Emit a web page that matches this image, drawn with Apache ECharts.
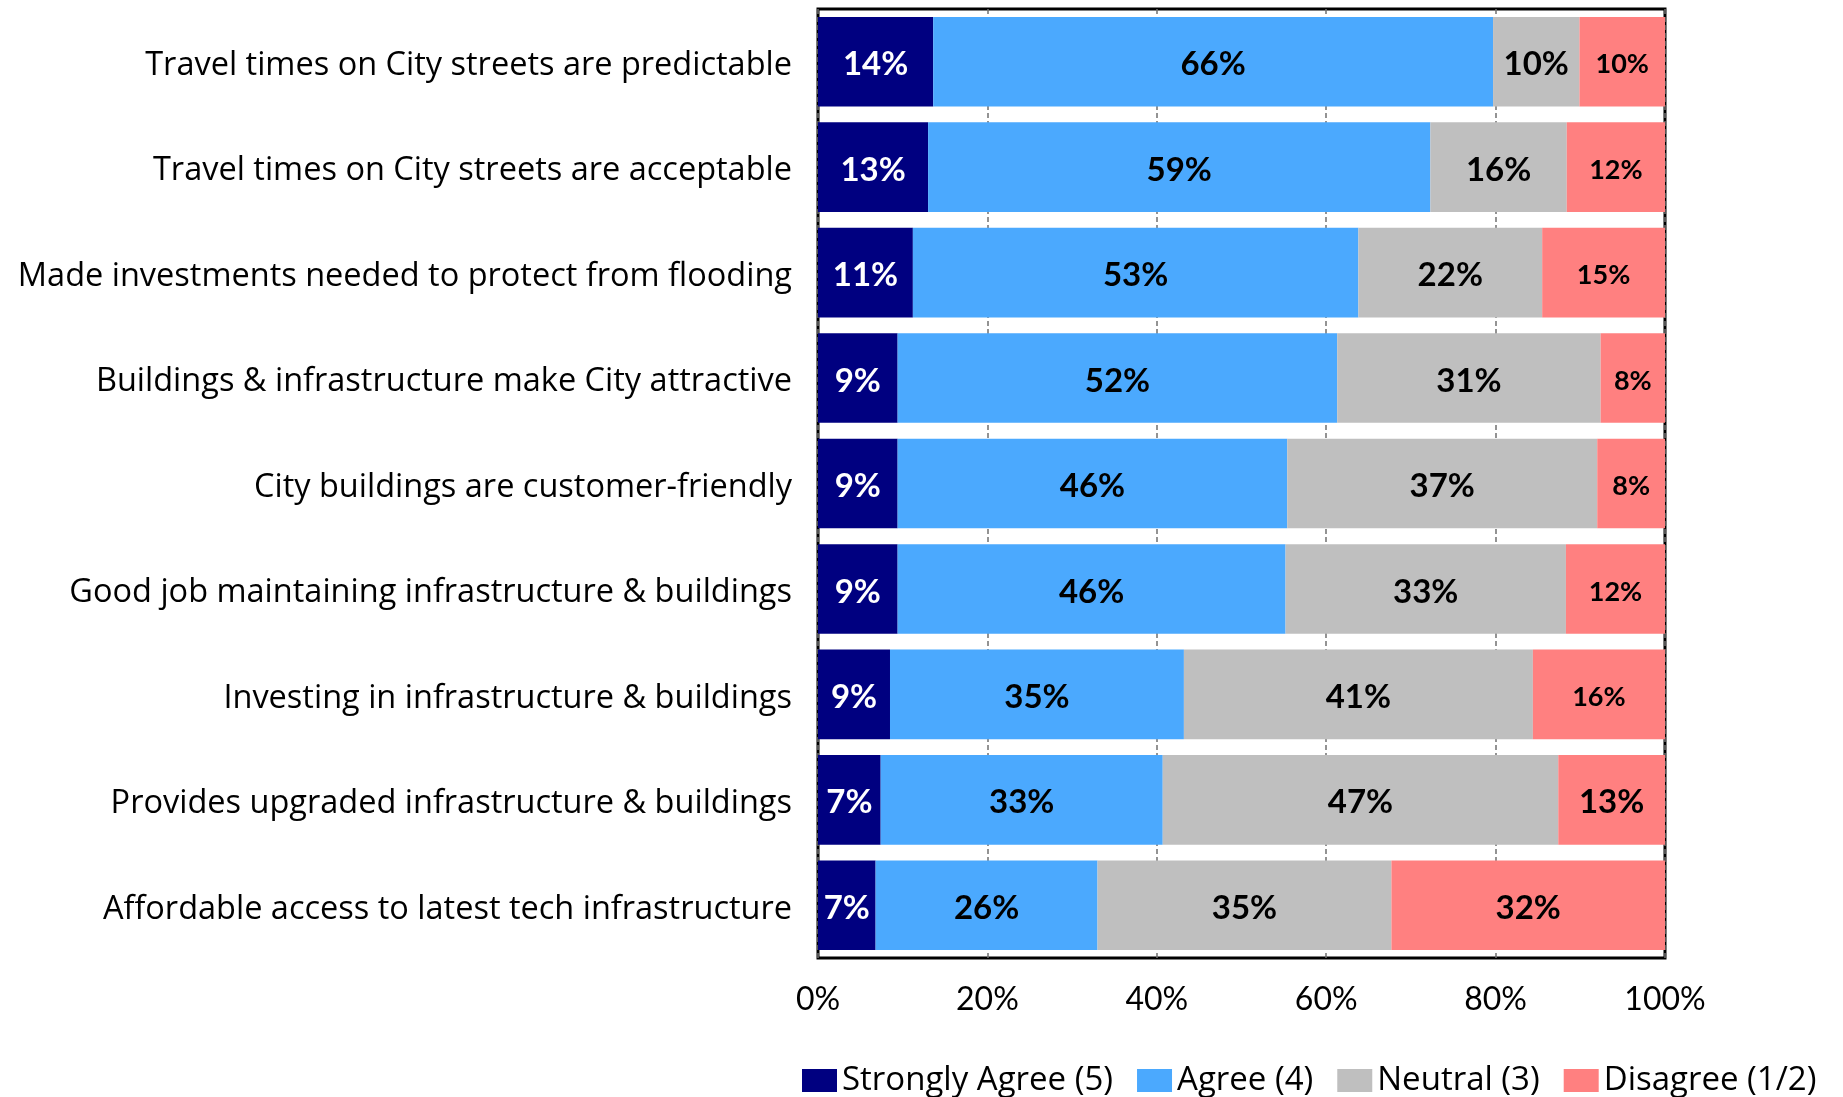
<!DOCTYPE html>
<html>
<head>
<meta charset="utf-8">
<script src="https://cdn.jsdelivr.net/npm/echarts@6/dist/echarts.min.js"></script>
<style>
html,body{margin:0;padding:0;background:#fff;}
#chart{width:1843px;height:1097px;}
</style>
</head>
<body>
<div id="chart"></div>
<script>
const categories = [
  "Travel times on City streets are predictable",
  "Travel times on City streets are acceptable",
  "Made investments needed to protect from flooding",
  "Buildings & infrastructure make City attractive",
  "City buildings are customer-friendly",
  "Good job maintaining infrastructure & buildings",
  "Investing in infrastructure & buildings",
  "Provides upgraded infrastructure & buildings",
  "Affordable access to latest tech infrastructure"
];
const seriesNames = ["Strongly Agree (5)", "Agree (4)", "Neutral (3)", "Disagree (1/2)"];
const stronglyAgree = [13.6, 13.0, 11.2, 9.4, 9.4, 9.4, 8.5, 7.4, 6.8];
const agree         = [66.1, 59.3, 52.6, 51.9, 46.0, 45.8, 34.7, 33.3, 26.2];
const neutral       = [10.2, 16.1, 21.7, 31.1, 36.6, 33.1, 41.2, 46.7, 34.7];
const disagree      = [10.1, 11.6, 14.5, 7.6, 8.0, 11.7, 15.6, 12.6, 32.3];
const xTicks = [0, 20, 40, 60, 80, 100];

// styling (kept separate from data)
const colors = ["#000080", "#4BA9FE", "#BFBFBF", "#FF8080"];
const labelColors = ["#ffffff", "#000000", "#000000", "#000000"];
const smallLabelRows = { 3: [0, 1, 2, 3, 4, 5, 6] };
const FONT = "Lato, 'Open Sans', sans-serif";
const WIDE = "'Open Sans', Lato, sans-serif";

const values = [stronglyAgree, agree, neutral, disagree];

const chart = echarts.init(document.getElementById('chart'));
const series = seriesNames.map((name, si) => ({
  name: name,
  type: 'bar',
  stack: 'total',
  barCategoryGap: '15%',
  data: values[si],
  itemStyle: { color: colors[si] },
  label: {
    show: true,
    position: 'inside',
    fontFamily: FONT,
    fontWeight: 'bold',
    color: labelColors[si],
    formatter: function (p) {
      const t = Math.round(p.value) + '%';
      const small = (smallLabelRows[si] || []).indexOf(p.dataIndex) >= 0;
      return small ? '{s|' + t + '}' : '{b|' + t + '}';
    },
    rich: {
      b: { fontSize: 33, fontWeight: 'bold', fontFamily: FONT, color: labelColors[si], padding: [6, 0, 0, 0] },
      s: { fontSize: 27, fontWeight: 'bold', fontFamily: FONT, color: labelColors[si], padding: [6, 0, 0, 0] }
    }
  },
  emphasis: { disabled: true }
}));

chart.setOption({
  animation: false,
  backgroundColor: '#ffffff',
  textStyle: { fontFamily: FONT },
  grid: {
    left: 818, right: 178, top: 9, bottom: 139,
    show: true, borderColor: '#000', borderWidth: 3, backgroundColor: 'transparent'
  },
  legend: {
    data: seriesNames,
    left: 797, top: 1059,
    icon: 'rect',
    itemWidth: 35, itemHeight: 23, itemGap: 24,
    textStyle: { fontSize: 33, color: '#000', fontFamily: WIDE, padding: [0, 0, 0, 0] }
  },
  xAxis: {
    type: 'value',
    min: xTicks[0], max: xTicks[xTicks.length - 1], interval: 20,
    axisLine: { show: false },
    axisTick: { show: false },
    splitLine: { show: true, lineStyle: { color: '#707070', width: 1.5, type: [5, 3] } },
    axisLabel: { formatter: '{value}%', fontSize: 32, color: '#000', margin: 26, fontFamily: FONT }
  },
  yAxis: {
    type: 'category',
    data: categories,
    inverse: true,
    axisLine: { show: false },
    axisTick: { show: false },
    axisLabel: {
      margin: 26,
      formatter: function (v) { return '{c|' + v + '}'; },
      rich: { c: { fontSize: 32.5, color: '#000', fontFamily: WIDE, padding: [8, 0, 0, 0] } }
    }
  },
  series: series
});
</script>
</body>
</html>
